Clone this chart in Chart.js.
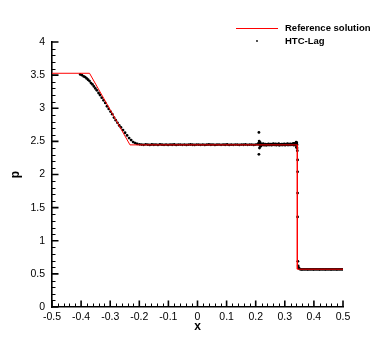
<!DOCTYPE html>
<html>
<head>
<meta charset="utf-8">
<script src="https://cdn.jsdelivr.net/npm/chart.js@4"></script>
<style>
  html, body { margin: 0; padding: 0; background: #fff; }
</style>
</head>
<body>
<canvas id="p_chart" width="390" height="347"></canvas>
<script>
'use strict';

// 参照解 (exact solution)
const refX = [-0.5, -0.371, -0.232, 0.343, 0.343, 0.5];
const refP = [3.528, 3.528, 2.447, 2.447, 0.571, 0.571];

// HTC-Lag particles, by region
const fanX = [-0.403, -0.397, -0.391, -0.386, -0.381, -0.376, -0.371, -0.366, -0.361, -0.356, -0.351, -0.346,
  -0.340, -0.335, -0.329, -0.323, -0.317, -0.311, -0.305, -0.299, -0.293, -0.287, -0.281, -0.275, -0.269,
  -0.263, -0.256, -0.249, -0.242, -0.235, -0.228, -0.221, -0.214, -0.207];
const fanP = [3.51, 3.50, 3.48, 3.47, 3.45, 3.43, 3.41, 3.38, 3.36, 3.33, 3.30, 3.27,
  3.23, 3.20, 3.16, 3.12, 3.08, 3.03, 2.99, 2.95, 2.91, 2.86, 2.82, 2.78, 2.74,
  2.71, 2.67, 2.63, 2.59, 2.55, 2.52, 2.49, 2.475, 2.462];

const plateauX = [-0.199, -0.192, -0.185, -0.178, -0.171, -0.164, -0.157, -0.150, -0.143, -0.136, -0.129,
  -0.122, -0.115, -0.108, -0.101, -0.094, -0.087, -0.080, -0.073, -0.066, -0.059, -0.052, -0.045, -0.038,
  -0.031, -0.024, -0.017, -0.010, -0.003, 0.004, 0.011, 0.018, 0.025, 0.032, 0.039, 0.046, 0.053, 0.060,
  0.067, 0.074, 0.081, 0.088, 0.095, 0.102, 0.109, 0.116, 0.123, 0.130, 0.137, 0.144, 0.151, 0.158,
  0.165, 0.172, 0.179, 0.186, 0.193, 0.200, 0.206];
const plateauP = [2.456, 2.452, 2.448, 2.455, 2.450, 2.446, 2.453, 2.449, 2.451, 2.447, 2.454,
  2.450, 2.448, 2.452, 2.446, 2.451, 2.449, 2.453, 2.447, 2.450, 2.452, 2.448, 2.451, 2.446,
  2.450, 2.453, 2.449, 2.447, 2.451, 2.450, 2.448, 2.452, 2.446, 2.450, 2.453, 2.449, 2.451, 2.447,
  2.450, 2.452, 2.448, 2.451, 2.449, 2.453, 2.447, 2.450, 2.448, 2.452, 2.450, 2.446, 2.451, 2.449,
  2.453, 2.448, 2.450, 2.452, 2.447, 2.451, 2.455];

const denseX = [0.212, 0.214, 0.216, 0.219, 0.221, 0.224, 0.226, 0.229, 0.231, 0.234, 0.236, 0.239, 0.241,
  0.244, 0.246, 0.249, 0.251, 0.254, 0.256, 0.259, 0.261, 0.264, 0.266, 0.269, 0.271, 0.274, 0.276, 0.279,
  0.281, 0.284, 0.286, 0.289, 0.291, 0.294, 0.296, 0.299, 0.301, 0.304, 0.306, 0.309, 0.311, 0.314, 0.316,
  0.319, 0.321, 0.324, 0.326, 0.329, 0.331, 0.334, 0.336, 0.338];
const denseP = [2.455, 2.445, 2.462, 2.440, 2.458, 2.449, 2.466, 2.443, 2.452, 2.460, 2.441, 2.456, 2.447,
  2.463, 2.444, 2.451, 2.459, 2.442, 2.457, 2.448, 2.465, 2.446, 2.453, 2.461, 2.443, 2.455, 2.450, 2.464,
  2.441, 2.454, 2.447, 2.460, 2.445, 2.458, 2.449, 2.463, 2.442, 2.456, 2.451, 2.466, 2.444, 2.457, 2.448,
  2.462, 2.446, 2.459, 2.452, 2.468, 2.443, 2.470, 2.455, 2.448];

// odd particles at the contact and at the shock
const edgeX = [0.211, 0.211, 0.212, 0.213, 0.210, 0.215, 0.217,
  0.339, 0.340, 0.341, 0.340, 0.342, 0.341, 0.342,
  0.343, 0.344, 0.344, 0.344, 0.344, 0.345, 0.346, 0.348, 0.351];
const edgeP = [2.635, 2.305, 2.505, 2.400, 2.475, 2.485, 2.425,
  2.490, 2.470, 2.430, 2.410, 2.450, 2.480, 2.400,
  2.360, 2.220, 2.040, 1.720, 1.360, 0.690, 0.620, 0.590, 0.575];

const rightX = [0.354, 0.359, 0.364, 0.369, 0.374, 0.379, 0.384, 0.389, 0.394, 0.399, 0.404, 0.409, 0.414,
  0.419, 0.424, 0.429, 0.434, 0.439, 0.444, 0.449, 0.454, 0.459, 0.464, 0.469, 0.474, 0.479, 0.484, 0.489,
  0.494, 0.499];
const rightP = [0.568, 0.566, 0.569, 0.567, 0.568, 0.566, 0.569, 0.567, 0.568, 0.566, 0.568, 0.567, 0.569,
  0.566, 0.568, 0.567, 0.569, 0.566, 0.568, 0.567, 0.568, 0.566, 0.569, 0.567, 0.568, 0.566, 0.568, 0.567,
  0.569, 0.567];

const xTicks = [-0.5, -0.4, -0.3, -0.2, -0.1, 0, 0.1, 0.2, 0.3, 0.4, 0.5];
const yTicks = [0, 0.5, 1, 1.5, 2, 2.5, 3, 3.5, 4];

const FONT = 'Liberation Sans, Arial, Helvetica, sans-serif';

function pairs(xs, ys) {
  return xs.map((x, i) => ({ x: x, y: ys[i] }));
}

const lagPoints = [].concat(
  pairs(fanX, fanP), pairs(plateauX, plateauP), pairs(denseX, denseP),
  pairs(edgeX, edgeP), pairs(rightX, rightP));

// inward ticks + legend, drawn by hand
const frameMarks = {
  id: 'frameMarks',
  afterDraw(chart) {
    const ctx = chart.ctx;
    const a = chart.chartArea;
    const xs = chart.scales.x, ys = chart.scales.y;
    ctx.save();
    ctx.strokeStyle = '#000';

    // minor
    ctx.lineWidth = 1;
    ctx.beginPath();
    for (let i = 0; i < xTicks.length - 1; i++) {
      const d = (xTicks[i + 1] - xTicks[i]) / 5;
      for (let k = 1; k < 5; k++) {
        const px = Math.round(xs.getPixelForValue(xTicks[i] + d * k)) + 0.5;
        ctx.moveTo(px, a.bottom);
        ctx.lineTo(px, a.bottom - 3.5);
      }
    }
    for (let i = 0; i < yTicks.length - 1; i++) {
      const d = (yTicks[i + 1] - yTicks[i]) / 5;
      for (let k = 1; k < 5; k++) {
        const py = Math.round(ys.getPixelForValue(yTicks[i] + d * k)) + 0.5;
        ctx.moveTo(a.left, py);
        ctx.lineTo(a.left + 3.5, py);
      }
    }
    ctx.stroke();

    // major
    ctx.lineWidth = 1.6;
    ctx.beginPath();
    xTicks.forEach(v => {
      const px = xs.getPixelForValue(v);
      ctx.moveTo(px, a.bottom);
      ctx.lineTo(px, a.bottom - 6.5);
    });
    yTicks.forEach(v => {
      const py = ys.getPixelForValue(v);
      ctx.moveTo(a.left, py);
      ctx.lineTo(a.left + 6.5, py);
    });
    ctx.stroke();

    // legend
    ctx.strokeStyle = '#ff0000';
    ctx.lineWidth = 1;
    ctx.beginPath();
    ctx.moveTo(236, 28.5);
    ctx.lineTo(278, 28.5);
    ctx.stroke();
    ctx.fillStyle = '#000';
    ctx.beginPath();
    ctx.arc(257, 41, 0.9, 0, Math.PI * 2);
    ctx.fill();
    ctx.font = 'bold 9.5px ' + FONT;
    ctx.textBaseline = 'middle';
    ctx.textAlign = 'left';
    ctx.fillText('Reference solution', 285, 28.5);
    ctx.fillText('HTC-Lag', 285, 41);
    ctx.restore();
  }
};

let contextP = document.getElementById('p_chart').getContext('2d');

new Chart(contextP, {
  type: 'scatter',
  data: {
    datasets: [{
      label: 'Reference solution',
      data: pairs(refX, refP),
      showLine: true,
      borderColor: '#ff0000',
      borderWidth: 1,
      pointRadius: 0,
      fill: false
    }, {
      label: 'HTC-Lag',
      data: lagPoints,
      showLine: false,
      backgroundColor: '#000',
      borderWidth: 0,
      pointRadius: 1.4,
      pointHoverRadius: 1.4
    }]
  },
  options: {
    responsive: false,
    devicePixelRatio: 1,
    animation: false,
    events: [],
    layout: { padding: { top: 42, right: 47, left: 0, bottom: 0 } },
    plugins: {
      legend: { display: false },
      tooltip: { enabled: false }
    },
    scales: {
      x: {
        type: 'linear',
        min: -0.5,
        max: 0.5,
        afterBuildTicks: s => { s.ticks = xTicks.map(v => ({ value: v })); },
        afterFit: s => { s.height = 40; },
        grid: { display: false, drawTicks: false, tickLength: 0 },
        border: { display: true, color: '#000', width: 1.6 },
        ticks: {
          padding: 4,
          color: '#000',
          font: { family: FONT, size: 10.5 },
          maxRotation: 0,
          autoSkip: false,
          callback: v => String(v)
        },
        title: {
          display: true,
          text: 'x',
          color: '#000',
          font: { family: FONT, size: 12, weight: 'bold' },
          padding: { top: 2, bottom: 13 }
        }
      },
      y: {
        type: 'linear',
        min: 0,
        max: 4,
        afterBuildTicks: s => { s.ticks = yTicks.map(v => ({ value: v })); },
        afterFit: s => { s.width = 52; },
        grid: { display: false, drawTicks: false, tickLength: 0 },
        border: { display: true, color: '#000', width: 1.6 },
        ticks: {
          padding: 7,
          color: '#000',
          font: { family: FONT, size: 10.5 },
          autoSkip: false,
          callback: v => String(v)
        },
        title: {
          display: true,
          text: 'p',
          color: '#000',
          font: { family: FONT, size: 12, weight: 'bold' },
          padding: { top: 8, bottom: 4 }
        }
      }
    }
  },
  plugins: [frameMarks]
});
</script>
</body>
</html>
